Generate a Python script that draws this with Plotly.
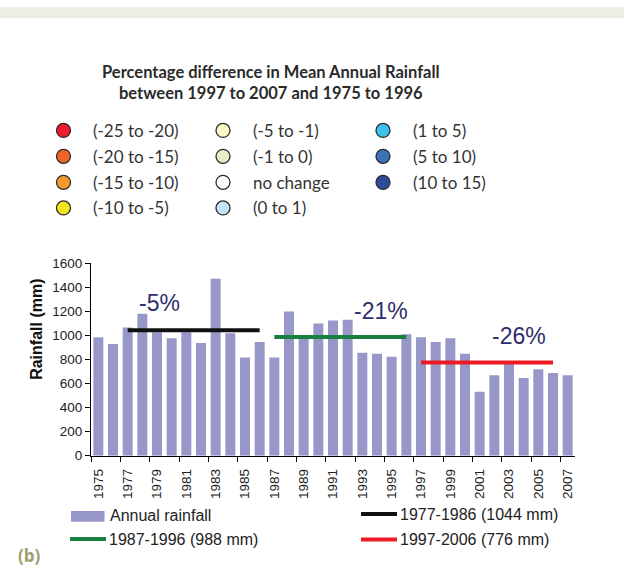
import plotly.graph_objects as go

W, H = 624, 574

# Annual rainfall series
years = list(range(1975, 2008))
rainfall = [986, 930, 1067, 1181, 1027, 978, 1027, 938, 1472, 1019,
            816, 946, 816, 1200, 990, 1100, 1124, 1132, 857, 849,
            824, 1011, 986, 946, 978, 849, 532, 670, 780, 646,
            719, 687, 670]

# Decadal means
period_names = ["1977-1986 (1044 mm)", "1987-1996 (988 mm)", "1997-2006 (776 mm)"]
period_start = [1977, 1987, 1997]
period_end = [1986, 1996, 2006]
period_mean = [1044, 988, 776]
period_color = ["#111111", "#17803F", "#EC1C24"]
period_change = ["-5%", "-21%", "-26%"]
change_pos_x = [1979.2, 1994.3, 2003.7]
change_pos_y = [1270, 1201, 996]

# Percentage-difference classes
class_labels = ["(-25 to -20)", "(-20 to -15)", "(-15 to -10)", "(-10 to -5)",
                "(-5 to -1)", "(-1 to 0)", "no change", "(0 to 1)",
                "(1 to 5)", "(5 to 10)", "(10 to 15)"]
class_colors = ["#EC1C2D", "#EF6428", "#F59A2B", "#F6E51E",
                "#FCF8C4", "#E5EFC6", "#FFFFFF", "#C5E6F6",
                "#3DC2EE", "#3C72B8", "#2F4C9B"]

x_tick_labels = [str(y) for y in range(1975, 2008, 2)]

BAR = "#9797C9"
TXT = "#222222"
SANS = "Arial, Liberation Sans, sans-serif"

x0, x1 = 91, 575          # plot area, pixels
ytop, ybot = 263.3, 460.7


def px(x):
    return x / W


def py(y):
    return 1 - y / H


fig = go.Figure()

fig.add_trace(go.Bar(
    x=years, y=rainfall, marker=dict(color=BAR, line=dict(width=0)),
    width=0.68, showlegend=False, hoverinfo="x+y",
))

for name, s, e, m, c in zip(period_names, period_start, period_end, period_mean, period_color):
    fig.add_trace(go.Scatter(
        x=[s, e], y=[m, m], mode="lines", line=dict(color=c, width=4),
        name=name, showlegend=False,
    ))

# class legend (circles) on a pixel-space overlay axis
col_x = [63.5, 223.0, 383.0]
row_y = [126.7, 153.3, 180.0, 206.3]
cx, cy = [], []
for i, _ in enumerate(class_labels):
    col, row = divmod(i, 4)
    cx.append(col_x[col])
    cy.append(row_y[row])
fig.add_trace(go.Scatter(
    x=cx, y=cy, mode="markers", xaxis="x2", yaxis="y2",
    marker=dict(size=14, color=class_colors, line=dict(color="#2a2a2a", width=1.3)),
    showlegend=False, hoverinfo="skip",
))

annotations = []
for lbl, x, y in zip(class_labels, cx, cy):
    annotations.append(dict(
        x=px(x + 27.5), y=py(y), xref="paper", yref="paper", text=lbl,
        showarrow=False, xanchor="left", yanchor="middle",
        font=dict(family="Lato", size=17, color="#333333"),
    ))

annotations += [
    dict(x=px(271), y=py(67), xref="paper", yref="paper",
         text="<b>Percentage difference in Mean Annual Rainfall</b>",
         showarrow=False, xanchor="center", yanchor="middle",
         font=dict(family="Lato", size=16.5, color="#2b2b2b")),
    dict(x=px(271), y=py(88), xref="paper", yref="paper",
         text="<b>between 1997 to 2007 and 1975 to 1996</b>",
         showarrow=False, xanchor="center", yanchor="middle",
         font=dict(family="Lato", size=16.5, color="#2b2b2b")),
]

for t, x, y in zip(period_change, change_pos_x, change_pos_y):
    annotations.append(dict(
        x=x, y=y, xref="x", yref="y", text=t, showarrow=False,
        xanchor="center", yanchor="middle",
        font=dict(family=SANS, size=23, color="#2E2D6C"),
    ))

# y axis title
annotations.append(dict(
    x=px(36.5), y=py(331), xref="paper", yref="paper", text="<b>Rainfall (mm)</b>",
    textangle=-90, showarrow=False, xanchor="center", yanchor="middle",
    font=dict(family=SANS, size=16, color="#111111"),
))

# bottom legend
shapes = [
    dict(type="rect", xref="paper", yref="paper", x0=0, x1=1, y0=py(11.5), y1=1,
         fillcolor="#EDEEE6", line=dict(width=0), layer="below"),
    dict(type="rect", xref="paper", yref="paper", x0=px(71), x1=px(104.5),
         y0=py(528.5), y1=py(517.5), fillcolor=BAR, line=dict(width=0)),
]
leg_items = [
    (70, 546.3, period_color[1], period_names[1]),
    (361, 520.7, period_color[0], period_names[0]),
    (361, 546.7, period_color[2], period_names[2]),
]
for lx, ly, c, name in leg_items:
    shapes.append(dict(type="line", xref="paper", yref="paper",
                       x0=px(lx), x1=px(lx + 36), y0=py(ly), y1=py(ly),
                       line=dict(color=c, width=4)))
    annotations.append(dict(x=px(lx + 36.5), y=py(ly), xref="paper", yref="paper",
                            text=name, showarrow=False, xanchor="left", yanchor="middle",
                            font=dict(family=SANS, size=16, color=TXT)))
annotations.append(dict(x=px(107.5), y=py(522.5), xref="paper", yref="paper",
                        text="Annual rainfall", showarrow=False, xanchor="left",
                        yanchor="middle",
                        font=dict(family=SANS, size=16, color=TXT)))
annotations.append(dict(x=px(15.5), y=py(563), xref="paper", yref="paper",
                        text="<b>(b)</b>", showarrow=False, xanchor="left",
                        yanchor="middle",
                        font=dict(family="Open Sans", size=17, color="#9C9F72")))

fig.update_layout(
    width=W, height=H, margin=dict(l=0, r=0, t=0, b=0),
    paper_bgcolor="white", plot_bgcolor="rgba(0,0,0,0)",
    showlegend=False, bargap=0.32,
    xaxis=dict(
        domain=[px(x0), px(x1)], range=[1974.5, 2007.5],
        tickmode="array", tickvals=list(range(1975, 2008, 2)), ticktext=x_tick_labels,
        tickangle=-90, ticks="", showgrid=False, zeroline=False,
        showline=True, linecolor="black", linewidth=1,
        ticklabelstandoff=7,
        tickfont=dict(family=SANS, size=13.5, color=TXT),
        minor=dict(ticks="outside", tick0=1974.5, dtick=2, ticklen=5,
                   tickcolor="black", tickwidth=1, showgrid=False),
        anchor="y",
    ),
    yaxis=dict(
        domain=[py(ybot), py(ytop)], range=[0, 1600], dtick=200,
        ticks="outside", ticklen=5, tickcolor="black", showgrid=False,
        zeroline=False, showline=True, linecolor="black", linewidth=1,
        tickfont=dict(family=SANS, size=13.5, color=TXT),
        anchor="x",
    ),
    xaxis2=dict(domain=[0, 1], range=[0, W], visible=False, anchor="y2",
                fixedrange=True),
    yaxis2=dict(domain=[0, 1], range=[H, 0], visible=False, anchor="x2",
                fixedrange=True),
    shapes=shapes,
    annotations=annotations,
)

fig.write_html("out.html")
